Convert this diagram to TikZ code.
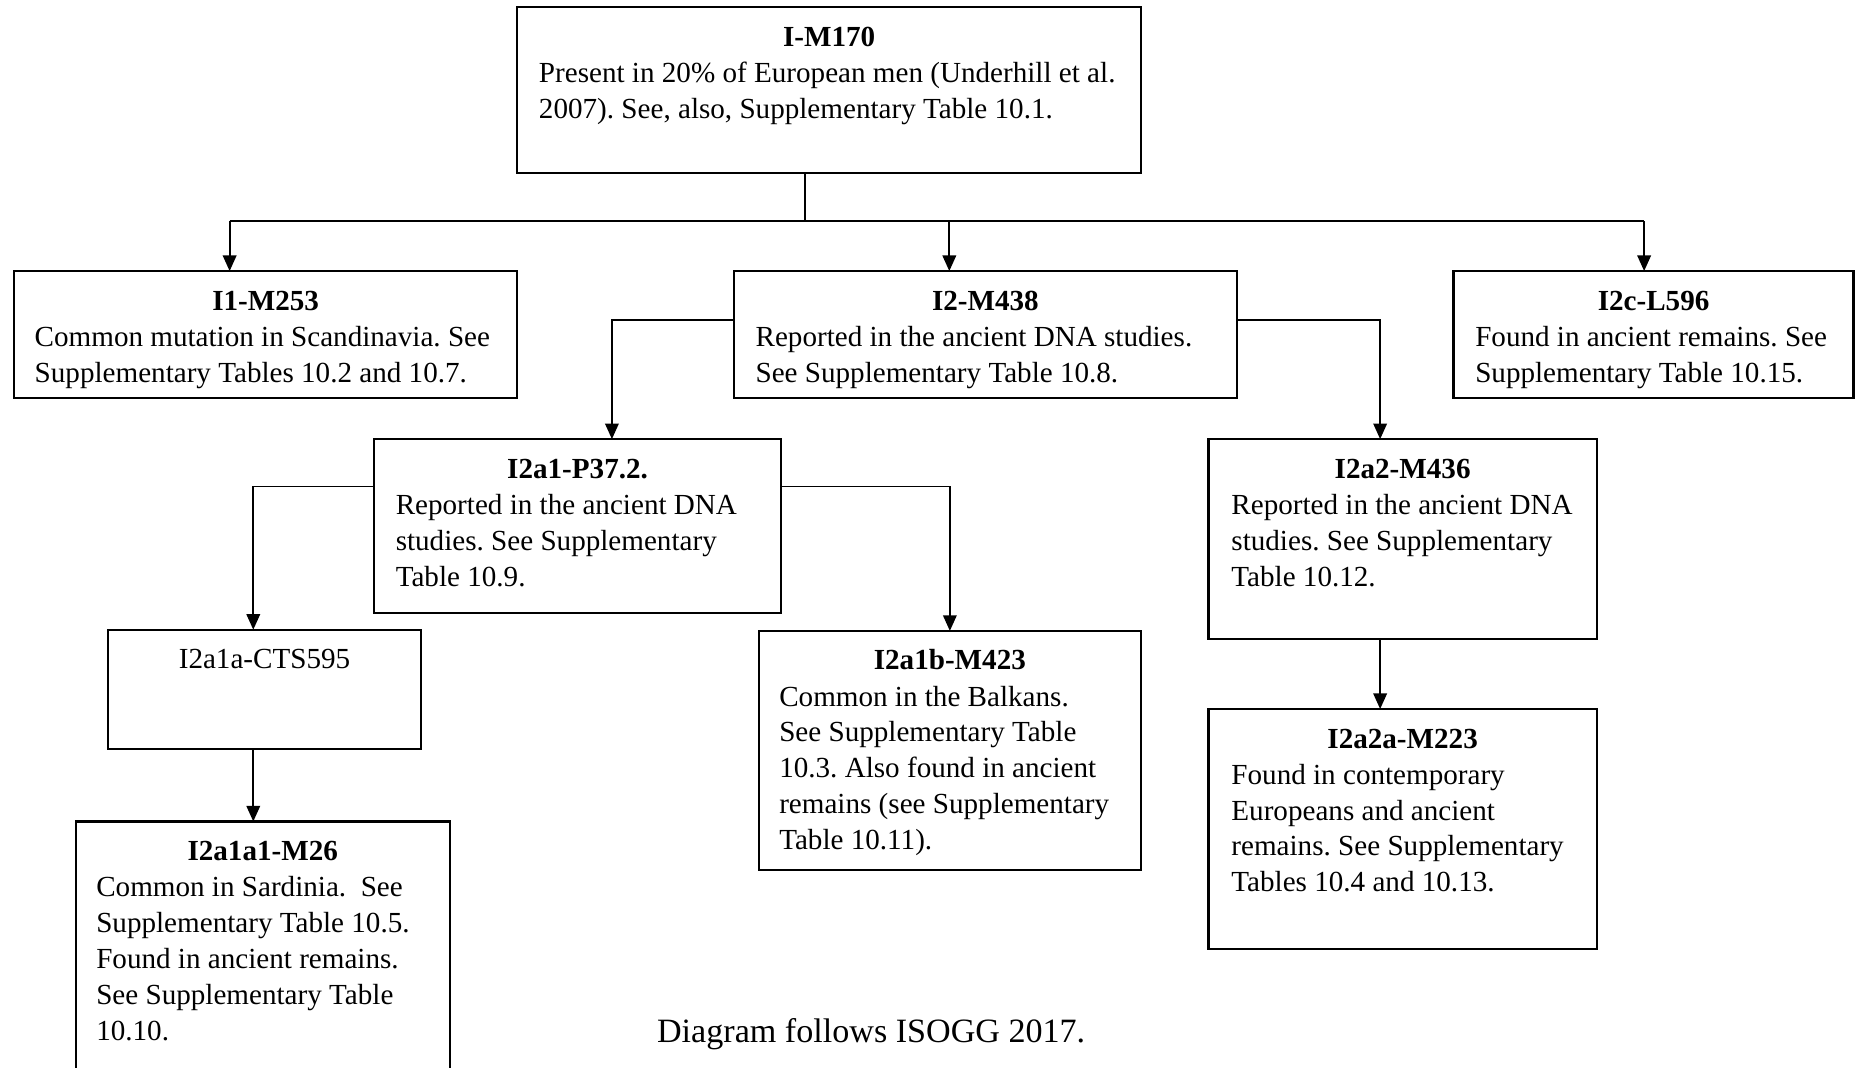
\documentclass[tikz,border=0pt]{standalone}
\usepackage{fontspec}
\setmainfont{Liberation Serif}
\usetikzlibrary{arrows.meta,calc}
\frenchspacing
\begin{document}
\begin{tikzpicture}[x=0.02cm,y=-0.02cm,
  box/.style={draw,line width=1.1pt,inner sep=0pt,outer sep=0pt,anchor=north west},
  ttl/.style={anchor=base,inner sep=0pt,font={\fontsize{14pt}{17.24pt}\selectfont\bfseries}},
  bodytxt/.style={anchor=north west,inner sep=0pt,align=left,font={\fontsize{14pt}{17.24pt}\selectfont\frenchspacing}},
  conn/.style={line width=0.9pt},
  arr/.style={conn,-{Triangle[width=6.5pt,length=7.5pt]}}]
\useasboundingbox (0,0) rectangle (1568,902);
% boxes
\node[box,minimum width=10.54cm,minimum height=2.80cm] (m170) at (437,6) {};
\node[box,minimum width=8.50cm,minimum height=2.14cm] (i1) at (12,229) {};
\node[box,minimum width=8.50cm,minimum height=2.14cm] (i2) at (620,229) {};
\node[box,minimum width=6.76cm,minimum height=2.14cm] (i2c) at (1228,229) {};
\node[box,minimum width=6.88cm,minimum height=2.94cm] (i2a1) at (316,371) {};
\node[box,minimum width=6.56cm,minimum height=3.38cm] (i2a2) at (1021,371) {};
\node[box,minimum width=5.30cm,minimum height=2.02cm] (cts) at (91,532) {};
\node[box,minimum width=6.46cm,minimum height=4.04cm] (i2a1b) at (641,533) {};
\node[box,minimum width=6.56cm,minimum height=4.06cm] (i2a2a) at (1021,599) {};
\node[box,minimum width=6.32cm,minimum height=4.40cm] (m26) at (64,694) {};
% titles
\node[ttl] (t170) at ([shift={(0,33)}]m170.north) {I-M170};
\node[ttl] (t1) at ([shift={(0,33)}]i1.north) {I1-M253};
\node[ttl] (t2) at ([shift={(0,33)}]i2.north) {I2-M438};
\node[ttl] (t2c) at ([shift={(0,33)}]i2c.north) {I2c-L596};
\node[ttl] (t2a1) at ([shift={(0,33)}]i2a1.north) {I2a1-P37.2.};
\node[ttl] (t2a2) at ([shift={(0,33)}]i2a2.north) {I2a2-M436};
\node[ttl,font={\fontsize{14pt}{17.24pt}\selectfont}] (tcts) at ([shift={(0,33)}]cts.north) {I2a1a-CTS595};
\node[ttl] (t2a1b) at ([shift={(0,33)}]i2a1b.north) {I2a1b-M423};
\node[ttl] (t2a2a) at ([shift={(0,33)}]i2a2a.north) {I2a2a-M223};
\node[ttl] (t26) at ([shift={(0,33)}]m26.north) {I2a1a1-M26};
% bodies
\node[bodytxt] (b170) at ([shift={(18,42)}]m170.north west) {\strut Present in 20\% of European men (Underhill et al.\\2007). See, also, Supplementary Table 10.1.};
\node[bodytxt] (b1) at ([shift={(17,42)}]i1.north west) {\strut Common mutation in Scandinavia. See\\Supplementary Tables 10.2 and 10.7.};
\node[bodytxt] (b2) at ([shift={(18,42)}]i2.north west) {\strut Reported in the ancient DNA studies.\\See Supplementary Table 10.8.};
\node[bodytxt] (b2c) at ([shift={(18,42)}]i2c.north west) {\strut Found in ancient remains. See\\Supplementary Table 10.15.};
\node[bodytxt] (b2a1) at ([shift={(18,42)}]i2a1.north west) {\strut Reported in the ancient DNA\\studies. See Supplementary\\Table 10.9.};
\node[bodytxt] (b2a2) at ([shift={(19,42)}]i2a2.north west) {\strut Reported in the ancient DNA\\studies. See Supplementary\\Table 10.12.};
\node[bodytxt] (b2a1b) at ([shift={(17,42)}]i2a1b.north west) {\strut Common in the Balkans.\\See Supplementary Table\\10.3. Also found in ancient\\remains (see Supplementary\\Table 10.11).};
\node[bodytxt] (b2a2a) at ([shift={(19,42)}]i2a2a.north west) {\strut Found in contemporary\\Europeans and ancient\\remains. See Supplementary\\Tables 10.4 and 10.13.};
\node[bodytxt] (b26) at ([shift={(17,42)}]m26.north west) {\strut Common in Sardinia.\ \ See\\Supplementary Table 10.5.\\Found in ancient remains.\\See Supplementary Table\\10.10.};
% caption
\node[anchor=base,inner sep=0pt,font={\fontsize{16.4pt}{19pt}\selectfont}] (cap) at (736,881) {Diagram follows ISOGG 2017.};
% connectors
\coordinate (j) at (680,187);
\coordinate (jl) at (194,187);
\coordinate (jm) at (802,187);
\coordinate (jr) at (1389,187);
\draw[conn] (j |- m170.south) -- (j);
\draw[conn] (jl) -- (jr);
\draw[arr] (jl) -- (jl |- i1.north);
\draw[arr] (jm) -- (jm |- i2.north);
\draw[arr] (jr) -- (jr |- i2c.north);
\draw[arr] ([yshift=0.25cm]i2.west) -| ([xshift=0.58cm]i2a1.north);
\draw[arr] ([yshift=0.25cm]i2.east) -| ([xshift=-0.38cm]i2a2.north);
\draw[arr] ([yshift=0.67cm]i2a1.west) -| ([xshift=-0.19cm]cts.north);
\draw[arr] ([yshift=0.67cm]i2a1.east) -| (i2a1b.north);
\draw[arr] ([xshift=-0.38cm]i2a2.south) -- ([xshift=-0.38cm]i2a2a.north);
\draw[arr] ([xshift=-0.19cm]cts.south) -- ([xshift=-0.19cm]cts.south |- m26.north);
\end{tikzpicture}
\end{document}
